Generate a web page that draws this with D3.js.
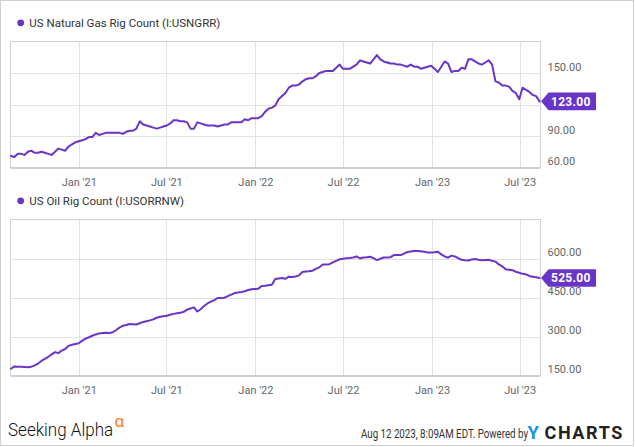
<!DOCTYPE html>
<html>
<head>
<meta charset="utf-8">
<script src="https://cdn.jsdelivr.net/npm/d3@7"></script>
<style>
  body { margin: 0; background: #fff; }
  svg { display: block; font-family: Roboto, "Noto Sans", sans-serif; }
</style>
</head>
<body>
<svg id="chart" width="635" height="447"></svg>
<script>
// weekly Baker Hughes readings, first one on Fri 14 Aug 2020
var firstWeek = "2020-08-14";

var gasRigs = [
  71, 70, 73, 73, 72, 75, 76, 74, 74, 75,
  74, 73, 72, 75, 78, 77, 76, 80, 82, 84,
  85, 86, 87, 89, 89, 93, 91, 92, 93, 93,
  93, 93, 93, 92, 94, 95, 95, 97, 104, 101,
  100, 99, 98, 97, 98, 99, 100, 102, 105, 105,
  104, 104, 103, 97, 97, 103, 102, 101, 100, 100,
  100, 99, 100, 101, 101, 103, 103, 103, 103, 106,
  105, 107, 107, 107, 109, 113, 116, 117, 119, 125,
  128, 131, 136, 138, 138, 139, 142, 144, 145, 145,
  147, 150, 151, 152, 152, 152, 155, 158, 154, 154,
  154, 156, 158, 162, 161, 160, 159, 163, 167, 163,
  161, 160, 159, 159, 158, 158, 157, 156, 158, 156,
  156, 154, 155, 156, 157, 154, 151, 156, 161, 159,
  151, 152, 152, 155, 154, 163, 163, 161, 159, 158,
  160, 162, 158, 142, 141, 138, 138, 137, 133, 131,
  125, 136, 134, 132, 129, 128, 123
];

var oilRigs = [
  176, 185, 184, 184, 183, 182, 184, 189, 196, 206,
  214, 222, 231, 240, 236, 246, 252, 264, 268, 271,
  274, 283, 292, 297, 303, 308, 312, 313, 314, 313,
  316, 324, 334, 341, 344, 348, 347, 346, 351, 356,
  359, 362, 366, 372, 376, 378, 380, 384, 387, 389,
  391, 395, 403, 408, 412, 396, 405, 417, 427, 434,
  440, 448, 448, 449, 455, 461, 467, 469, 471, 474,
  479, 482, 483, 484, 494, 495, 497, 499, 521, 523,
  525, 522, 530, 529, 531, 535, 548, 550, 551, 553,
  560, 566, 577, 577, 578, 585, 591, 597, 599, 601,
  602, 604, 608, 600, 604, 605, 607, 601, 594, 599,
  604, 604, 605, 613, 613, 613, 619, 625, 627, 629,
  629, 628, 626, 623, 623, 624, 626, 616, 608, 603,
  611, 608, 601, 595, 593, 592, 596, 598, 595, 593,
  594, 595, 591, 588, 577, 570, 559, 557, 555, 549,
  545, 541, 539, 533, 530, 528, 525
];

var xTickLabels = ["2021-01-01", "2021-07-01", "2022-01-01", "2022-07-01", "2023-01-01", "2023-07-01"];
var gasTicks = [60, 90, 120, 150, 180];
var oilTicks = [150, 300, 450, 600, 750];

var purple = "#6935c9";
var parseDay = d3.timeParse("%Y-%m-%d");
var start = parseDay(firstWeek);
var weeks = gasRigs.map((d, i) => d3.timeDay.offset(start, 7 * i));

var svg = d3.select("#chart");

svg.append("rect")
  .attr("x", 0.5).attr("y", 0.5)
  .attr("width", 633).attr("height", 445)
  .attr("fill", "#fff")
  .attr("stroke", "#cfcfcf");

var x = d3.scaleTime()
  .domain([parseDay("2020-08-13"), parseDay("2023-08-13")])
  .range([10.5, 540.5]);

var panel = function(values, ticks, top, bottom, title, titleY) {
  var y = d3.scaleLinear()
    .domain([ticks[0], ticks[ticks.length - 1]])
    .range([bottom, top]);
  var last = values[values.length - 1];

  var g = svg.append("g");

  // title with coloured dot
  g.append("circle")
    .attr("cx", 20.7).attr("cy", titleY - 4.5).attr("r", 3.4)
    .attr("fill", purple);
  g.append("text")
    .attr("x", 29.3).attr("y", titleY)
    .attr("font-size", 11.5)
    .attr("fill", "#333")
    .text(title);

  // grid
  g.append("g")
    .selectAll("line.h")
    .data(ticks.slice(1, -1))
    .join("line")
      .attr("x1", x.range()[0]).attr("x2", x.range()[1])
      .attr("y1", d => Math.round(y(d)) + 0.5).attr("y2", d => Math.round(y(d)) + 0.5)
      .attr("stroke", "#e2e2e2");
  g.append("g")
    .selectAll("line.v")
    .data(xTickLabels.map(parseDay))
    .join("line")
      .attr("x1", d => Math.round(x(d)) + 0.5).attr("x2", d => Math.round(x(d)) + 0.5)
      .attr("y1", top).attr("y2", bottom)
      .attr("stroke", "#e2e2e2");

  g.append("rect")
    .attr("x", x.range()[0]).attr("y", top)
    .attr("width", x.range()[1] - x.range()[0]).attr("height", bottom - top)
    .attr("fill", "none")
    .attr("stroke", "#d2d2d2");
  g.append("line")
    .attr("x1", x.range()[0]).attr("x2", x.range()[1])
    .attr("y1", bottom + 0.5).attr("y2", bottom + 0.5)
    .attr("stroke", "#cfcfcf")
    .attr("stroke-width", 2);

  // x axis labels
  var xAxis = g.append("g")
    .attr("transform", `translate(0,${bottom})`)
    .call(d3.axisBottom(x)
      .tickValues(xTickLabels.map(parseDay))
      .tickFormat(d3.timeFormat("%b '%y"))
      .tickSize(0)
      .tickPadding(10.5));
  xAxis.select(".domain").remove();
  xAxis.selectAll("text")
    .attr("font-family", "Roboto, sans-serif")
    .attr("font-size", 11)
    .attr("fill", "#666");

  // y axis labels just above each grid line; the one hidden by the flag is left out
  var yAxis = g.append("g")
    .attr("transform", `translate(${x.range()[1]},0)`)
    .call(d3.axisRight(y)
      .tickValues(ticks.slice(0, -1).filter(t => Math.abs(y(t) - y(last)) > 12))
      .tickFormat(d3.format(".2f"))
      .tickSize(0)
      .tickPadding(7));
  yAxis.select(".domain").remove();
  yAxis.selectAll("text")
    .attr("font-family", "Roboto, sans-serif")
    .attr("font-size", 11)
    .attr("dy", "-0.25em")
    .attr("fill", "#666");

  var line = d3.line()
    .x((d, i) => x(weeks[i]))
    .y(d => y(d));

  g.append("path")
    .attr("fill", "none")
    .attr("stroke", purple)
    .attr("stroke-width", 2)
    .attr("stroke-linejoin", "round")
    .attr("stroke-linecap", "round")
    .attr("d", line(values));

  // last value flag
  var tipX = x(weeks[weeks.length - 1]) + 1.5;
  var cy = y(last);
  g.append("path")
    .attr("d", `M${tipX},${cy} L${tipX + 7.5},${cy - 8.8} L596,${cy - 8.8} L596,${cy + 8.8} L${tipX + 7.5},${cy + 8.8} Z`)
    .attr("fill", purple);
  g.append("text")
    .attr("x", 551).attr("y", cy + 4.2)
    .attr("font-size", 12)
    .attr("font-weight", 700)
    .attr("letter-spacing", 0.3)
    .attr("fill", "#fff")
    .text(d3.format(".2f")(last));
};

panel(gasRigs, gasTicks, 41.5, 167.5, "US Natural Gas Rig Count (I:USNGRR)", 27.3);
panel(oilRigs, oilTicks, 219.5, 375.5, "US Oil Rig Count (I:USORRNW)", 205.3);

// footer
svg.append("text")
  .attr("transform", "translate(8,436) scale(0.92,1)")
  .attr("font-size", 18.5)
  .attr("font-weight", 300)
  .attr("fill", "#111")
  .text("Seeking Alpha");
svg.append("text")
  .attr("x", 114.5).attr("y", 426.5)
  .attr("font-size", 17)
  .attr("fill", "#ff7f1e")
  .text("α");

svg.append("text")
  .attr("transform", "translate(361,438.3) scale(0.78,1)")
  .attr("font-size", 12.5)
  .attr("fill", "#333")
  .text("Aug 12 2023, 8:09AM EDT.  Powered by");

svg.append("text")
  .attr("x", 527.5).attr("y", 439.3)
  .attr("font-size", 18.5)
  .attr("font-weight", 700)
  .attr("fill", "#1a96e6")
  .text("Y");
svg.append("text")
  .attr("x", 544.5).attr("y", 439.3)
  .attr("font-size", 18)
  .attr("font-weight", 700)
  .attr("letter-spacing", 1.6)
  .attr("fill", "#222")
  .text("CHARTS");
</script>
</body>
</html>
